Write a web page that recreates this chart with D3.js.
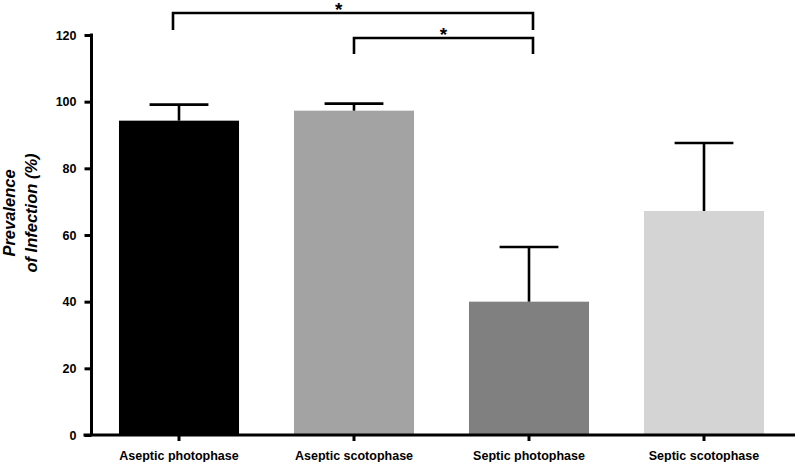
<!DOCTYPE html>
<html>
<head>
<meta charset="utf-8">
<script src="https://cdn.jsdelivr.net/npm/d3@7"></script>
<style>
  html, body { margin: 0; padding: 0; background: #fff; }
  svg { display: block; font-family: "Liberation Sans", Arial, sans-serif; }
</style>
</head>
<body>
<div id="chart"></div>
<script>
// Data
const groups = ['Aseptic photophase', 'Aseptic scotophase', 'Septic photophase', 'Septic scotophase'];
const prevalence = [94.3, 97.3, 40.0, 67.2];
const errors = [4.8, 2.1, 16.4, 20.4];
const barColors = ['#000000', '#a3a3a3', '#808080', '#d4d4d4'];
const yTicks = [0, 20, 40, 60, 80, 100, 120];

// significance brackets: [from group, to group, label]
const brackets = [
  [0, 2, '*'],
  [1, 2, '*']
];

const width = 795;
const height = 462;
const margin = { top: 35, right: 3.5, bottom: 27, left: 91.5 };

const svg = d3.select('#chart')
  .append('svg')
  .attr('width', width)
  .attr('height', height);

const x = d3.scaleBand()
  .domain(groups)
  .range([margin.left, width - margin.right])
  .paddingInner(0.314)
  .paddingOuter(0.157);

const y = d3.scaleLinear()
  .domain([0, 120])
  .range([height - margin.bottom, margin.top]);

// Bars
svg.append('g')
  .selectAll('rect')
  .data(groups)
  .join('rect')
  .attr('x', d => x(d))
  .attr('y', (d, i) => y(prevalence[i]))
  .attr('width', x.bandwidth())
  .attr('height', (d, i) => y(0) - y(prevalence[i]))
  .attr('fill', (d, i) => barColors[i]);

// Error bars (upper only)
const capHalf = x.bandwidth() * 0.245;
const err = svg.append('g')
  .attr('stroke', '#000')
  .attr('stroke-width', 2.6);

groups.forEach((g, i) => {
  const cx = x(g) + x.bandwidth() / 2;
  err.append('line')
    .attr('x1', cx).attr('x2', cx)
    .attr('y1', y(prevalence[i]))
    .attr('y2', y(prevalence[i] + errors[i]));
  err.append('line')
    .attr('x1', cx - capHalf).attr('x2', cx + capHalf)
    .attr('y1', y(prevalence[i] + errors[i]))
    .attr('y2', y(prevalence[i] + errors[i]));
});

// Y axis
const yAxis = d3.axisLeft(y)
  .tickValues(yTicks)
  .tickSize(7)
  .tickSizeOuter(0)
  .tickPadding(8);

const yAxisG = svg.append('g')
  .attr('transform', `translate(${margin.left},0)`)
  .call(yAxis);

yAxisG.select('.domain')
  .attr('stroke-width', 3)
  .attr('d', `M0,${y(120) - 1.5}V${y(0)}`);
yAxisG.selectAll('.tick line').attr('stroke-width', 3);
yAxisG.selectAll('.tick text')
  .style('font-size', '12.5px')
  .style('font-weight', 'bold')
  .attr('fill', '#000');

// X axis
const xAxis = d3.axisBottom(x)
  .tickSize(6)
  .tickSizeOuter(0)
  .tickPadding(10);

const xAxisG = svg.append('g')
  .attr('transform', `translate(0,${y(0)})`)
  .call(xAxis);

xAxisG.select('.domain')
  .attr('stroke-width', 3)
  .attr('d', `M${margin.left - 8},0H${width}`);
xAxisG.selectAll('.tick line').attr('stroke-width', 3);
xAxisG.selectAll('.tick text')
  .style('font-size', '12.5px')
  .style('font-weight', 'bold')
  .attr('fill', '#000');

// Y axis label (two lines)
const yLabel = svg.append('text')
  .attr('transform', `translate(15,213) rotate(-90)`)
  .attr('text-anchor', 'middle')
  .style('font-size', '16.5px')
  .style('font-weight', 'bold')
  .style('font-style', 'italic');

yLabel.append('tspan').attr('x', 0).attr('y', 0).text('Prevalence');
yLabel.append('tspan').attr('x', 0).attr('y', 22).text('of Infection (%)');

// Significance brackets
const bracketLevels = [[126.6, 121.5, 0.46], [119.1, 114.3, 0.5]];
const brG = svg.append('g');

brackets.forEach(([a, b, label], k) => {
  const [top, leg, starPos] = bracketLevels[k];
  const x1 = x(groups[a]) + x.bandwidth() / 2 - (k === 0 ? 6 : 0);
  const x2 = x(groups[b]) + x.bandwidth() / 2 + 4;
  brG.append('path')
    .attr('d', `M${x1},${y(leg)}V${y(top)}H${x2}V${y(leg)}`)
    .attr('fill', 'none')
    .attr('stroke', '#000')
    .attr('stroke-width', 2.6);
  brG.append('text')
    .attr('x', x1 + (x2 - x1) * starPos)
    .attr('y', y(top) + 3)
    .attr('text-anchor', 'middle')
    .style('font-size', '19px')
    .style('font-weight', 'bold')
    .text(label);
});
</script>
</body>
</html>
